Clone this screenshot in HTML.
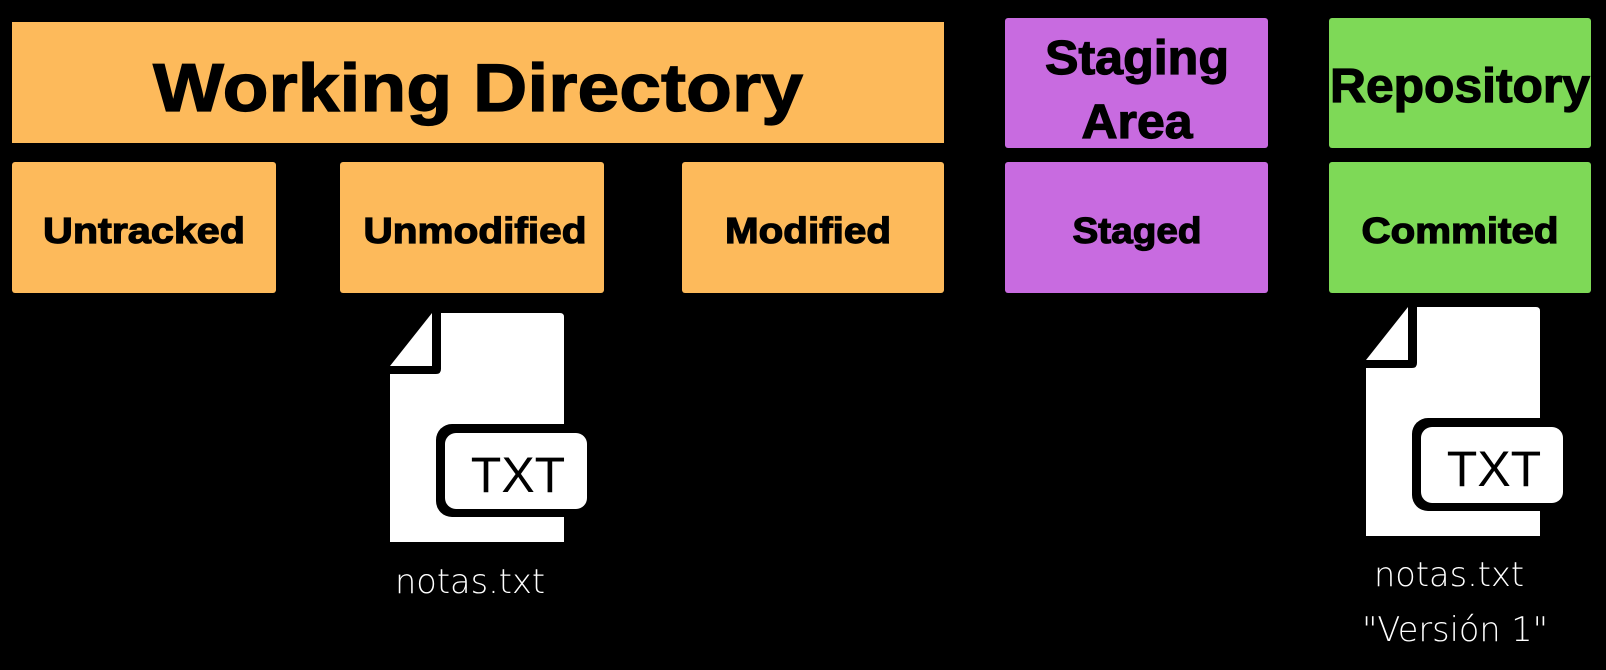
<!DOCTYPE html>
<html><head><meta charset="utf-8"><style>
html,body{margin:0;padding:0;background:#000;}
svg{display:block}
.b{font-family:"Liberation Sans",sans-serif;font-weight:bold;fill:#000;stroke:#000;stroke-width:1.2}
.l{font-family:"DejaVu Sans","Liberation Sans",sans-serif;font-weight:200;fill:#fff}
</style></head><body>
<svg width="1606" height="670" viewBox="0 0 1606 670" xmlns="http://www.w3.org/2000/svg">
<rect width="1606" height="670" fill="#000"/>
<rect x="12" y="22" width="932" height="121" fill="#FDBA5B"/>
<rect x="12" y="162" width="264" height="131" rx="3" fill="#FDBA5B"/>
<rect x="340" y="162" width="264" height="131" rx="3" fill="#FDBA5B"/>
<rect x="682" y="162" width="262" height="131" rx="3" fill="#FDBA5B"/>
<rect x="1005" y="18" width="263" height="130" rx="3" fill="#C86BE0"/>
<rect x="1005" y="162" width="263" height="131" rx="3" fill="#C86BE0"/>
<rect x="1329" y="18" width="262" height="130" rx="3" fill="#7ED957"/>
<rect x="1329" y="162" width="262" height="131" rx="3" fill="#7ED957"/>

<text class="b" x="478" y="111" font-size="68" text-anchor="middle" textLength="650" lengthAdjust="spacingAndGlyphs">Working Directory</text>
<text class="b" x="1137" y="74" font-size="48" text-anchor="middle" textLength="184" lengthAdjust="spacingAndGlyphs">Staging</text>
<text class="b" x="1137" y="138" font-size="48" text-anchor="middle" textLength="111" lengthAdjust="spacingAndGlyphs">Area</text>
<text class="b" x="1460" y="102" font-size="48" text-anchor="middle" textLength="260" lengthAdjust="spacingAndGlyphs">Repository</text>
<text class="b" x="144" y="243" font-size="36" text-anchor="middle" textLength="202" lengthAdjust="spacingAndGlyphs">Untracked</text>
<text class="b" x="475" y="243" font-size="36" text-anchor="middle" textLength="223" lengthAdjust="spacingAndGlyphs">Unmodified</text>
<text class="b" x="808" y="243" font-size="36" text-anchor="middle" textLength="166" lengthAdjust="spacingAndGlyphs">Modified</text>
<text class="b" x="1137" y="243" font-size="36" text-anchor="middle" textLength="129" lengthAdjust="spacingAndGlyphs">Staged</text>
<text class="b" x="1460" y="243" font-size="36" text-anchor="middle" textLength="197" lengthAdjust="spacingAndGlyphs">Commited</text>

<g id="f1">
<path d="M441 313 H560 Q564 313 564 317 V542 H390 V374 H436 Q441 374 441 369 Z" fill="#fff"/>
<path d="M432 313 V366 H390 Z" fill="#fff"/>
<rect x="436" y="424" width="150" height="93" rx="16" fill="#000"/>
<rect x="445" y="433" width="142" height="76" rx="11" fill="#fff"/>
<text x="518" y="492" font-family="Liberation Sans,sans-serif" font-size="50" fill="#000" text-anchor="middle">TXT</text>
</g>
<use href="#f1" transform="translate(976,-6)"/>

<text class="l" x="470" y="593" font-size="34" text-anchor="middle" textLength="150" lengthAdjust="spacingAndGlyphs">notas.txt</text>
<text class="l" x="1449" y="586" font-size="34" text-anchor="middle" textLength="150" lengthAdjust="spacingAndGlyphs">notas.txt</text>
<text class="l" x="1455" y="641" font-size="34" text-anchor="middle" textLength="186" lengthAdjust="spacingAndGlyphs">"Versión 1"</text>
</svg>
</body></html>
